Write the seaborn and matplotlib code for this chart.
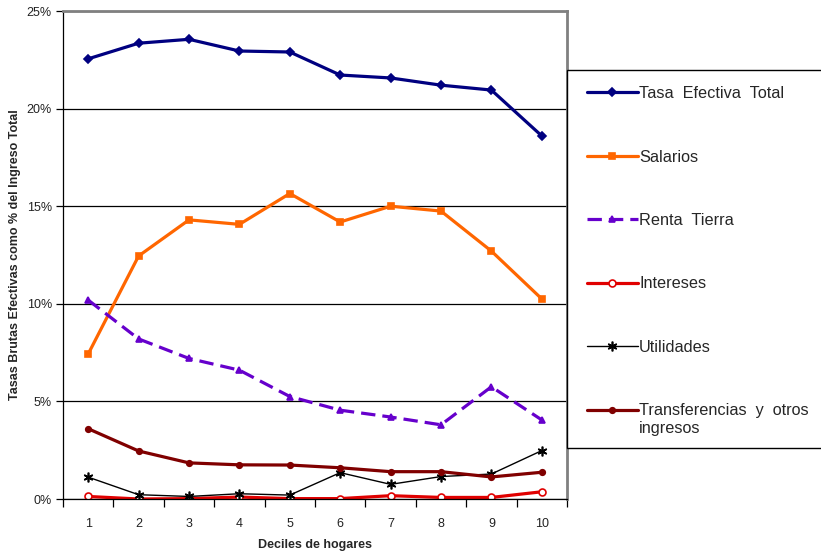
import matplotlib
matplotlib.use('Agg')
import matplotlib.pyplot as plt
import seaborn as sns
import pandas as pd
from matplotlib.patches import Rectangle
from matplotlib.ticker import FuncFormatter, MultipleLocator

# Data (percent of total income)
deciles = [1, 2, 3, 4, 5, 6, 7, 8, 9, 10]
tasa_total = [22.55, 23.35, 23.55, 22.95, 22.9, 21.72, 21.57, 21.2, 20.95, 18.6]
salarios = [7.43, 12.45, 14.3, 14.07, 15.65, 14.19, 15.0, 14.75, 12.7, 10.25]
renta_tierra = [10.19, 8.2, 7.2, 6.6, 5.25, 4.55, 4.2, 3.8, 5.75, 4.05]
intereses = [0.13, 0.0, 0.02, 0.1, 0.02, 0.02, 0.17, 0.08, 0.08, 0.37]
utilidades = [1.12, 0.22, 0.13, 0.27, 0.2, 1.35, 0.75, 1.15, 1.28, 2.48]
transferencias = [3.6, 2.46, 1.85, 1.75, 1.74, 1.6, 1.4, 1.4, 1.13, 1.37]

series_names = ['Tasa  Efectiva  Total', 'Salarios', 'Renta  Tierra', 'Intereses',
                'Utilidades', 'Transferencias  y  otros']
series_values = [tasa_total, salarios, renta_tierra, intereses, utilidades, transferencias]

# style per series: colour, marker, line width, marker size, dashed
styles = [
    ('#000080', 'D', 2.3, 4.5, False),
    ('#FF6600', 's', 2.3, 5.0, False),
    ('#6600CC', '^', 2.3, 5.0, True),
    ('#E00000', 'o', 2.3, 5.0, False),
    ('#000000', (6, 2, 0), 1.0, 7.0, False),
    ('#800000', 'o', 2.3, 4.0, False),
]

sns.set_style('white')
plt.rcParams['font.family'] = ['Liberation Sans', 'DejaVu Sans']

fig = plt.figure(figsize=(8.21, 5.52), dpi=100)
ax = fig.add_axes([63 / 821, 53 / 552, 504 / 821, 488 / 552])

for name, vals, (col, mk, lw, ms, dashed) in zip(series_names, series_values, styles):
    df = pd.DataFrame({'Decil': deciles, 'Valor': vals})
    face = 'white' if name == 'Intereses' else col
    sns.lineplot(data=df, x='Decil', y='Valor', ax=ax, color=col, marker=mk,
                 linewidth=lw, markersize=ms, markerfacecolor=face,
                 markeredgecolor=col, markeredgewidth=1.2, label=name)
    if dashed:
        ax.lines[-1].set_dashes((4.5, 2.2))

ax.set_xlim(0.5, 10.5)
ax.set_ylim(0, 25)

# y axis
ax.yaxis.set_major_locator(MultipleLocator(5))
ax.yaxis.set_major_formatter(FuncFormatter(lambda v, p: f'{v:.0f}%'))
ax.grid(axis='y', color='black', linewidth=0.9)
ax.grid(axis='x', visible=False)
ax.tick_params(axis='y', which='major', left=True, length=5, width=0.9,
               color='black', labelsize=9, labelcolor='#222222', pad=3)

# x axis: labels at centres, tick marks at category boundaries
ax.set_xticks(deciles)
ax.set_xticks([d - 0.5 for d in deciles] + [10.5], minor=True)
ax.tick_params(axis='x', which='major', length=0, pad=14, labelsize=9, labelcolor='#222222')
ax.tick_params(axis='x', which='minor', bottom=True, length=6, width=0.9, color='black')

for side in ['left', 'bottom']:
    ax.spines[side].set_color('black')
    ax.spines[side].set_linewidth(0.9)
for side in ['top', 'right']:
    ax.spines[side].set_color('#808080')
    ax.spines[side].set_linewidth(2)

ax.set_xlabel('Deciles de hogares', fontsize=9, fontweight='bold', labelpad=6)
ax.set_ylabel('Tasas Brutas Efectivas como % del Ingreso Total', fontsize=9,
              fontweight='bold', labelpad=4)

# legend box on the right, cut by the figure edge
fig.patches.append(Rectangle((567 / 821, 1 - 448 / 552), 300 / 821, 378 / 552,
                             transform=fig.transFigure, facecolor='white',
                             edgecolor='black', linewidth=1.0, zorder=3))
handles, labels = ax.get_legend_handles_labels()
ax.get_legend().remove()
leg = fig.legend(handles, labels, loc='upper left', bbox_to_anchor=(579 / 821, 1 - 78 / 552),
                 bbox_transform=fig.transFigure, frameon=False, fontsize=11.7,
                 handlelength=3.1, handletextpad=0.1, labelspacing=2.98, borderpad=0)
leg.set_zorder(5)
# second line of the last legend entry
fig.text(639 / 821, 1 - 429 / 552, 'ingresos', fontsize=11.7, va='center', ha='left', zorder=6)

fig.savefig('out.png', dpi=100)
